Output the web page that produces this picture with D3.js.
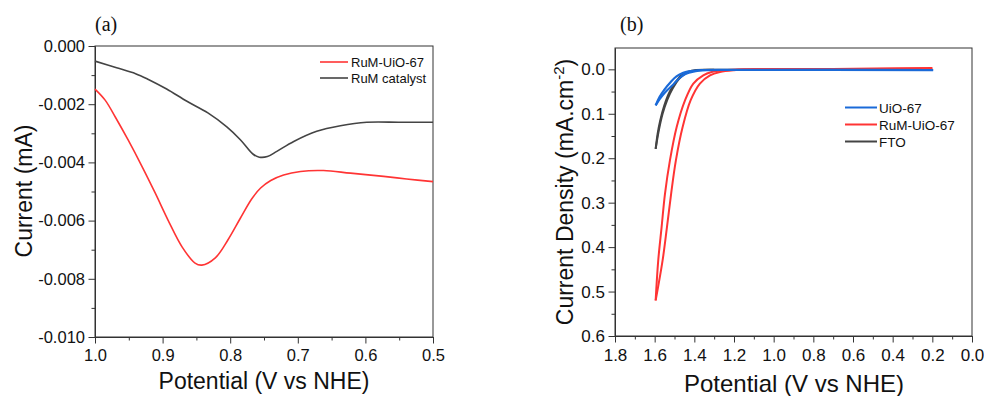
<!DOCTYPE html>
<html>
<head>
<meta charset="utf-8">
<script src="https://cdn.jsdelivr.net/npm/d3@7"></script>
<style>
body { margin: 0; background: #fff; }
svg { display: block; font-family: "Liberation Sans", Arial, sans-serif; }
.axis text { fill: #111; }
.axis line, .axis path { stroke: #333; }
</style>
</head>
<body>
<script>
// panel (a): current vs potential
const aXTicks = [1.0, 0.9, 0.8, 0.7, 0.6, 0.5];
const aXMinor = [0.95, 0.85, 0.75, 0.65, 0.55];
const aYTicks = [0, -0.002, -0.004, -0.006, -0.008, -0.010];
const aYMinor = [-0.001, -0.003, -0.005, -0.007, -0.009];

const aRuMUiO = [[1.0,-0.00148],[0.985,-0.00186],[0.970,-0.00244],[0.951,-0.00323],[0.930,-0.00416],
  [0.911,-0.00505],[0.892,-0.00598],[0.871,-0.00691],[0.852,-0.00746],[0.842,-0.00753],[0.822,-0.00728],
  [0.803,-0.00665],[0.785,-0.00592],[0.768,-0.00525],[0.755,-0.00488],[0.740,-0.00462],[0.721,-0.00443],
  [0.696,-0.00431],[0.662,-0.00428],[0.622,-0.00437],[0.573,-0.00448],[0.539,-0.00457],[0.5,-0.00466]];
const aRuMCat = [[1.0,-0.00052],[0.968,-0.00075],[0.940,-0.00095],[0.921,-0.00115],[0.894,-0.00148],
  [0.864,-0.0019],[0.833,-0.0023],[0.805,-0.00278],[0.785,-0.00322],[0.766,-0.00372],[0.757,-0.00382],
  [0.745,-0.0038],[0.731,-0.00362],[0.706,-0.00328],[0.672,-0.00293],[0.637,-0.00274],[0.598,-0.00262],
  [0.548,-0.00262],[0.5,-0.00262]];
const aLegend = ["RuM-UiO-67", "RuM catalyst"];

// panel (b): current density vs potential, two sweep branches each
const bXTicks = [1.8, 1.6, 1.4, 1.2, 1.0, 0.8, 0.6, 0.4, 0.2, 0.0];
const bXMinor = [1.7, 1.5, 1.3, 1.1, 0.9, 0.7, 0.5, 0.3, 0.1];
const bYTicks = [0, 0.1, 0.2, 0.3, 0.4, 0.5, 0.6];
const bYMinor = [0.05, 0.15, 0.25, 0.35, 0.45, 0.55];

const ftoA = [[1.595,0.179],[1.585,0.145],[1.572,0.115],[1.552,0.082],[1.526,0.052],[1.496,0.030],
  [1.466,0.014],[1.431,0.0053],[1.389,0.0015],[1.3,0.001],[0.2,0.001]];
const ftoB = [[1.595,0.179],[1.578,0.135],[1.560,0.100],[1.536,0.068],[1.508,0.042],[1.478,0.022],
  [1.448,0.010],[1.41,0.004],[1.37,0.0015],[1.3,0.001]];
const rumA = [[1.595,0.520],[1.582,0.43],[1.565,0.355],[1.548,0.28],[1.523,0.205],[1.489,0.13],
  [1.447,0.07],[1.405,0.032],[1.355,0.0135],[1.313,0.006],[1.25,0.002],[1.15,0.0],[0.7,-0.001],[0.2,-0.003]];
const rumB = [[1.595,0.520],[1.560,0.43],[1.538,0.355],[1.517,0.28],[1.493,0.205],[1.459,0.13],
  [1.419,0.07],[1.372,0.032],[1.321,0.0135],[1.271,0.006],[1.2,0.002],[1.1,0.0],[0.7,0.0],[0.2,-0.002]];
const uioA = [[1.595,0.081],[1.573,0.066],[1.548,0.052],[1.506,0.034],[1.476,0.020],[1.445,0.0105],
  [1.405,0.005],[1.338,0.002],[1.2,0.0015],[0.196,0.0015]];
const uioB = [[1.595,0.081],[1.575,0.062],[1.552,0.046],[1.52,0.029],[1.49,0.016],[1.456,0.008],
  [1.42,0.004],[1.36,0.0015],[1.2,0.001],[0.196,0.002]];
const bLegend = ["UiO-67", "RuM-UiO-67", "FTO"];

const red = "#ff3434", gray = "#444", blue = "#1a6ad8";

const svg = d3.select("body").append("svg").attr("width", 984).attr("height", 396);

function panel(opt) {
  const x = d3.scaleLinear().domain(opt.xDomain).range([opt.left, opt.right]);
  const y = d3.scaleLinear().domain(opt.yDomain).range([opt.top, opt.bottom]);
  const g = svg.append("g");

  g.append("g").attr("class", "axis").attr("transform", `translate(0,${opt.bottom})`)
    .call(d3.axisBottom(x).tickValues(opt.xMinor).tickSize(3.5).tickSizeOuter(0).tickFormat(""));
  g.append("g").attr("class", "axis").attr("transform", `translate(${opt.left},0)`)
    .call(d3.axisLeft(y).tickValues(opt.yMinor).tickSize(3.5).tickSizeOuter(0).tickFormat(""));

  const xa = g.append("g").attr("class", "axis").attr("transform", `translate(0,${opt.bottom})`)
    .call(d3.axisBottom(x).tickValues(opt.xTicks).tickSize(6.5).tickSizeOuter(0)
      .tickPadding(6).tickFormat(d => d.toFixed(1)));
  xa.selectAll("text").style("font-size", opt.tickFont + "px");
  const ya = g.append("g").attr("class", "axis").attr("transform", `translate(${opt.left},0)`)
    .call(d3.axisLeft(y).tickValues(opt.yTicks).tickSize(6.5).tickSizeOuter(0)
      .tickPadding(3.5).tickFormat(d => d.toFixed(opt.yDigits)));
  ya.selectAll("text").style("font-size", opt.tickFont + "px");

  g.append("rect").attr("x", opt.left).attr("y", opt.top)
    .attr("width", opt.right - opt.left).attr("height", opt.bottom - opt.top)
    .attr("fill", "none").attr("stroke", "#333").attr("stroke-width", 1);

  const line = d3.line().x(d => x(d[0])).y(d => y(d[1])).curve(d3.curveCatmullRom);
  opt.series.forEach(s => {
    g.append("path").attr("d", line(s.data)).attr("fill", "none")
      .attr("stroke", s.color).attr("stroke-width", s.width);
  });
  return g;
}

const ga = panel({
  left: 95, right: 433, top: 46, bottom: 337,
  xDomain: [1.0, 0.5], yDomain: [0, -0.010],
  xTicks: aXTicks, xMinor: aXMinor, yTicks: aYTicks, yMinor: aYMinor,
  yDigits: 3, tickFont: 16.5,
  series: [{data: aRuMCat, color: gray, width: 1.6}, {data: aRuMUiO, color: red, width: 1.6}]
});
ga.append("text").attr("x", 264).attr("y", 389).attr("text-anchor", "middle")
  .style("font-size", "23px").attr("fill", "#111").text("Potential (V vs NHE)");
ga.append("text").attr("transform", "translate(32,191) rotate(-90)").attr("text-anchor", "middle")
  .style("font-size", "23px").attr("fill", "#111").text("Current (mA)");
ga.append("text").attr("x", 95).attr("y", 31).style("font-family", "'Liberation Serif', serif")
  .style("font-size", "20px").attr("fill", "#111").text("(a)");
[red, gray].forEach((c, i) => {
  ga.append("line").attr("x1", 320).attr("x2", 348).attr("y1", 62 + i * 16).attr("y2", 62 + i * 16)
    .attr("stroke", c).attr("stroke-width", 1.6);
  ga.append("text").attr("x", 351).attr("y", 66.5 + i * 16).style("font-size", "13px")
    .attr("fill", "#111").text(aLegend[i]);
});

const gb = panel({
  left: 615, right: 972, top: 48, bottom: 336,
  xDomain: [1.8, 0.0], yDomain: [-0.048, 0.6],
  xTicks: bXTicks, xMinor: bXMinor, yTicks: bYTicks, yMinor: bYMinor,
  yDigits: 1, tickFont: 17,
  series: [{data: ftoA, color: gray, width: 2}, {data: ftoB, color: gray, width: 2},
    {data: rumA, color: red, width: 2}, {data: rumB, color: red, width: 2},
    {data: uioA, color: blue, width: 2.2}, {data: uioB, color: blue, width: 2.2}]
});
gb.append("text").attr("x", 794).attr("y", 392).attr("text-anchor", "middle")
  .style("font-size", "24px").attr("fill", "#111").text("Potential (V vs NHE)");
const yt = gb.append("text").attr("transform", "translate(573,192) rotate(-90)").attr("text-anchor", "middle")
  .style("font-size", "23px").attr("fill", "#111");
yt.append("tspan").text("Current Density (mA.cm");
yt.append("tspan").attr("dy", -9).style("font-size", "15px").text("-2");
yt.append("tspan").attr("dy", 9).text(")");
gb.append("text").attr("x", 620).attr("y", 31).style("font-family", "'Liberation Serif', serif")
  .style("font-size", "20px").attr("fill", "#111").text("(b)");
[blue, red, gray].forEach((c, i) => {
  gb.append("line").attr("x1", 845).attr("x2", 877).attr("y1", 107.5 + i * 17).attr("y2", 107.5 + i * 17)
    .attr("stroke", c).attr("stroke-width", 2);
  gb.append("text").attr("x", 879).attr("y", 112.5 + i * 17).style("font-size", "13.5px")
    .attr("fill", "#111").text(bLegend[i]);
});
</script>
</body>
</html>
